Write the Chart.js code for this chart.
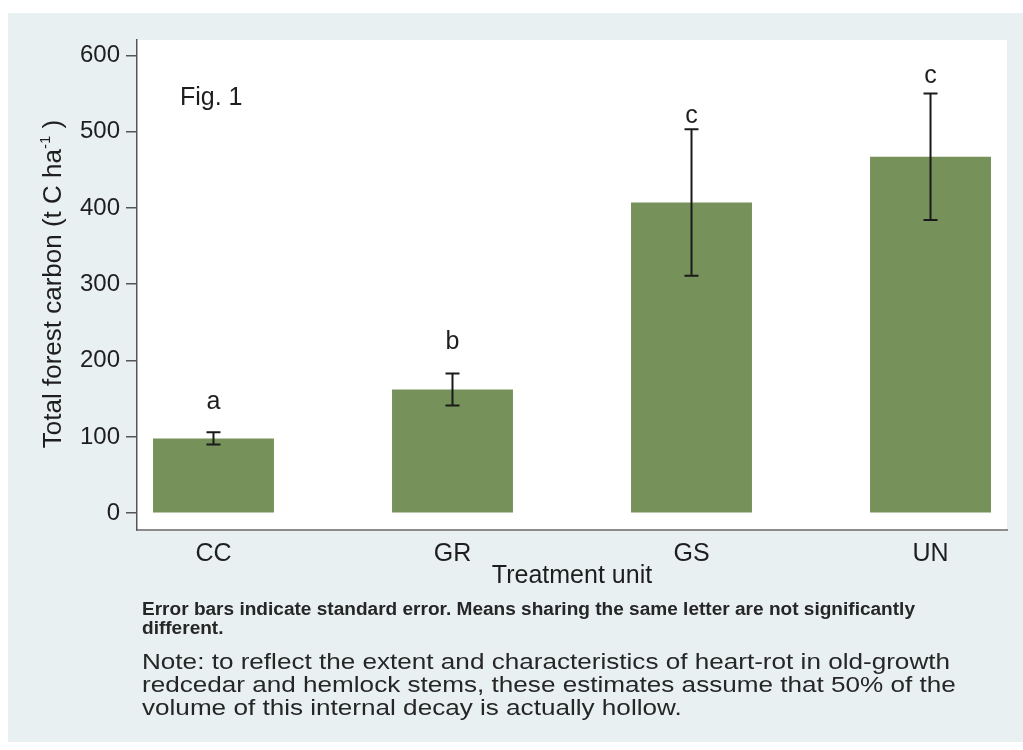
<!DOCTYPE html>
<html>
<head>
<meta charset="utf-8">
<script src="https://cdn.jsdelivr.net/npm/chart.js@4.4.1/dist/chart.umd.min.js"></script>
<style>
  html, body { margin: 0; padding: 0; background: #ffffff; }
  #wrap { width: 1023px; height: 750px; position: relative; }
</style>
</head>
<body>
<div id="wrap"><canvas id="c" width="1023" height="750"></canvas></div>
<script>
// Treatment units and their mean total forest carbon (t C / ha)
const categories = ['CC', 'GR', 'GS', 'UN'];
const meanCarbon = [98, 162, 407, 467];
const standardErrors = [8, 21, 96, 83];
// Significance groups and the axis value each letter sits at
const groupLetters = ['a', 'b', 'c', 'c'];
const letterHeights = [145, 224, 520, 573];
const yTicks = [0, 100, 200, 300, 400, 500, 600];

const FONT = '"Liberation Sans", Arial, Helvetica, sans-serif';
const INK = '#1e1e1e';

function drawText(ctx, str, x, y, o) {
  ctx.save();
  ctx.font = (o.weight || 'normal') + ' ' + o.size + 'px ' + FONT;
  ctx.fillStyle = o.color || INK;
  ctx.textBaseline = o.baseline || 'alphabetic';
  ctx.textAlign = 'left';
  const w = ctx.measureText(str).width;
  const sx = o.width ? o.width / w : (o.sx || 1);
  let left = x;
  if (o.align === 'center') left = x - w * sx / 2;
  else if (o.align === 'right') left = x - w * sx;
  ctx.translate(left, y);
  ctx.scale(sx, 1);
  ctx.fillText(str, 0, 0);
  ctx.restore();
  return sx;
}

const backdrop = {
  id: 'backdrop',
  beforeDraw(chart) {
    const ctx = chart.ctx, a = chart.chartArea;
    ctx.save();
    ctx.fillStyle = '#ffffff';
    ctx.fillRect(0, 0, chart.width, chart.height);
    ctx.fillStyle = '#e9f0f2';
    ctx.fillRect(8, 13, chart.width - 8, 729);
    ctx.fillStyle = '#ffffff';
    ctx.fillRect(a.left, a.top, a.right - a.left, a.bottom - a.top);
    ctx.restore();
  }
};

const errorBars = {
  id: 'errorBars',
  afterDatasetsDraw(chart) {
    const ctx = chart.ctx, ys = chart.scales.y;
    const bars = chart.getDatasetMeta(0).data;
    ctx.save();
    ctx.strokeStyle = '#1a1a1a';
    ctx.lineWidth = 2;
    bars.forEach((bar, i) => {
      const x = bar.x;
      const top = ys.getPixelForValue(meanCarbon[i] + standardErrors[i]);
      const bot = ys.getPixelForValue(meanCarbon[i] - standardErrors[i]);
      ctx.beginPath();
      ctx.moveTo(x, top); ctx.lineTo(x, bot);
      ctx.moveTo(x - 7, top); ctx.lineTo(x + 7, top);
      ctx.moveTo(x - 7, bot); ctx.lineTo(x + 7, bot);
      ctx.stroke();
      drawText(ctx, groupLetters[i], x, ys.getPixelForValue(letterHeights[i]),
        { size: 25, align: 'center', baseline: 'middle' });
    });
    ctx.restore();
  }
};

const labels = {
  id: 'labels',
  afterDraw(chart) {
    const ctx = chart.ctx, xs = chart.scales.x, ys = chart.scales.y;
    const a = chart.chartArea;

    // value axis tick labels
    yTicks.forEach(v => {
      drawText(ctx, String(v), 120, ys.getPixelForValue(v), { size: 24, align: 'right', baseline: 'middle' });
    });
    // category labels
    categories.forEach((c, i) => {
      drawText(ctx, c, xs.getPixelForValue(i), 554, { size: 25, align: 'center', baseline: 'middle' });
    });
    // axis titles
    drawText(ctx, 'Treatment unit', (a.left + a.right) / 2, 576, { size: 25, align: 'center', baseline: 'middle' });

    ctx.save();
    ctx.translate(61, 284);
    ctx.rotate(-Math.PI / 2);
    ctx.fillStyle = INK;
    ctx.textBaseline = 'alphabetic';
    ctx.textAlign = 'left';
    const big = '26px ' + FONT, small = '15px ' + FONT;
    const parts = [
      { t: 'Total forest carbon (t C ha', f: big, dy: 0 },
      { t: '-1', f: small, dy: -11 },
      { t: ' )', f: big, dy: 0 }
    ];
    let total = 0;
    parts.forEach(p => { ctx.font = p.f; p.w = ctx.measureText(p.t).width; total += p.w; });
    let px = -total / 2;
    parts.forEach(p => { ctx.font = p.f; ctx.fillText(p.t, px, p.dy); px += p.w; });
    ctx.restore();

    drawText(ctx, 'Fig. 1', 180, 105, { size: 25 });

    // footnotes
    const sxA = drawText(ctx, 'Error bars indicate standard error. Means sharing the same letter are not significantly',
      142, 615, { size: 18, weight: 'bold', width: 773, color: '#262626' });
    drawText(ctx, 'different.', 142, 634, { size: 18, weight: 'bold', sx: sxA, color: '#262626' });

    const sxB = drawText(ctx, 'Note: to reflect the extent and characteristics of heart-rot in old-growth',
      142, 669, { size: 22.5, width: 808, color: '#262626' });
    drawText(ctx, 'redcedar and hemlock stems, these estimates assume that 50% of the', 142, 692,
      { size: 22.5, sx: sxB, color: '#262626' });
    drawText(ctx, 'volume of this internal decay is actually hollow.', 142, 715,
      { size: 22.5, sx: sxB, color: '#262626' });
  }
};

new Chart(document.getElementById('c'), {
  type: 'bar',
  data: {
    datasets: [{
      data: meanCarbon.map((v, i) => ({ x: i, y: v })),
      backgroundColor: '#76915a',
      borderWidth: 0,
      barPercentage: 0.506,
      categoryPercentage: 1.0
    }]
  },
  options: {
    responsive: false,
    devicePixelRatio: 1,
    animation: false,
    layout: { padding: { top: 40, right: 16, left: 0, bottom: 0 } },
    plugins: { legend: { display: false }, tooltip: { enabled: false } },
    scales: {
      x: {
        type: 'linear',
        min: -0.32,
        max: 3.32,
        offset: false,
        afterBuildTicks: s => { s.ticks = categories.map((_, i) => ({ value: i })); },
        afterFit: s => { s.height = 220; },
        ticks: { display: false },
        grid: { display: false },
        border: { display: true, color: '#8c8c8c', width: 2 }
      },
      y: {
        type: 'linear',
        min: -22,
        max: 620,
        afterBuildTicks: s => { s.ticks = yTicks.map(v => ({ value: v })); },
        afterFit: s => { s.width = 137; },
        ticks: { display: false },
        grid: { display: true, drawOnChartArea: false, drawTicks: true, tickLength: 11, color: '#555555', lineWidth: 1.5 },
        border: { display: true, color: '#555555', width: 1.5 }
      }
    }
  },
  plugins: [backdrop, errorBars, labels]
});
</script>
</body>
</html>
